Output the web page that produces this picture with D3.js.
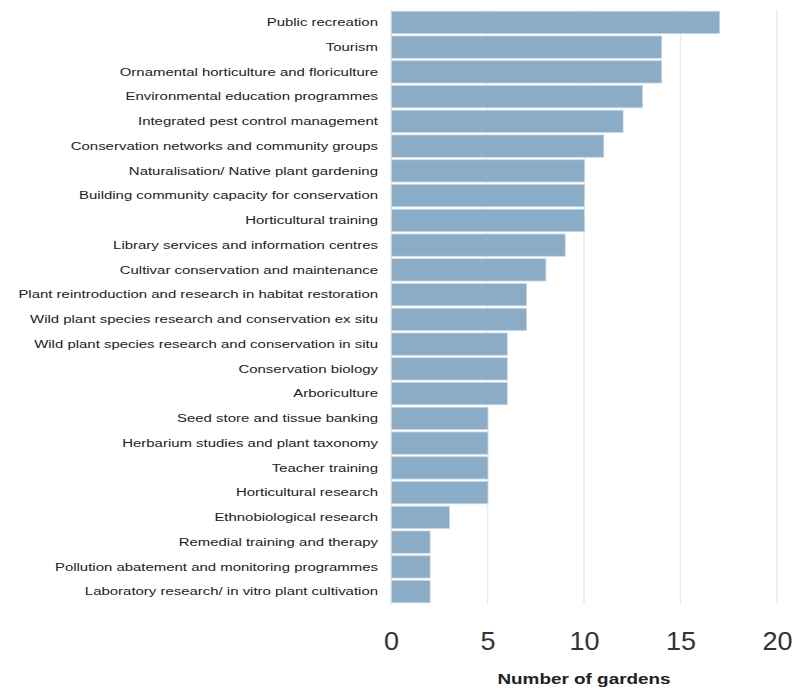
<!DOCTYPE html>
<html>
<head>
<meta charset="utf-8">
<script src="https://cdn.jsdelivr.net/npm/d3@7"></script>
<style>
  body { margin: 0; background: #fff; }
  svg { display: block; font-family: "Liberation Sans", Arial, sans-serif; }
</style>
</head>
<body>
<div id="chart"></div>
<script>
// categories, top to bottom
var categories = [
    "Public recreation",
    "Tourism",
    "Ornamental horticulture and floriculture",
    "Environmental education programmes",
    "Integrated pest control management",
    "Conservation networks and community groups",
    "Naturalisation/ Native plant gardening",
    "Building community capacity for conservation",
    "Horticultural training",
    "Library services and information centres",
    "Cultivar conservation and maintenance",
    "Plant reintroduction and research in habitat restoration",
    "Wild plant species research and conservation ex situ",
    "Wild plant species research and conservation in situ",
    "Conservation biology",
    "Arboriculture",
    "Seed store and tissue banking",
    "Herbarium studies and plant taxonomy",
    "Teacher training",
    "Horticultural research",
    "Ethnobiological research",
    "Remedial training and therapy",
    "Pollution abatement and monitoring programmes",
    "Laboratory research/ in vitro plant cultivation"
];
var gardens = [17, 14, 14, 13, 12, 11, 10, 10, 10, 9, 8, 7, 7, 6, 6, 6, 5, 5, 5, 5, 3, 2, 2, 2];
var xTicks = [0, 5, 10, 15, 20];

(function() {
    var width = 805;
    var height = 692;
    var left = 391, right = 777, top = 10, bottom = 604;

    var data = categories.map((c, i) => ({name: c, value: gardens[i]}));

    var svg = d3.select('#chart')
        .append('svg')
        .attr('width', width)
        .attr('height', height);

    var x = d3.scaleLinear()
        .domain([0, 20])
        .range([left, right]);

    var y = d3.scaleBand()
        .domain(categories)
        .range([top, bottom])
        .paddingInner(0.1)
        .paddingOuter(0.05);

    // grid lines
    svg.append('g')
        .selectAll('line')
        .data(xTicks)
        .join('line')
            .attr('x1', d => x(d))
            .attr('x2', d => x(d))
            .attr('y1', top)
            .attr('y2', bottom)
            .attr('stroke', '#ebebeb')
            .attr('stroke-width', 1.5);

    // bars
    svg.append('g')
        .selectAll('rect')
        .data(data)
        .join('rect')
            .attr('x', x(0) + 0.5)
            .attr('y', d => y(d.name))
            .attr('width', d => x(d.value) - x(0))
            .attr('height', y.bandwidth())
            .attr('fill', '#8aacc6')
            .attr('stroke', '#c8d6e2')
            .attr('stroke-width', 0.8);

    // category labels (the original type is drawn wide, so stretch it)
    var yAxis = svg.append('g')
        .attr('transform', `translate(${left}, 0)`)
        .call(d3.axisLeft(y).tickSize(0).tickPadding(10));
    yAxis.select('.domain').remove();
    yAxis.selectAll('text')
        .attr('font-size', '11.5px')
        .attr('fill', '#222')
        .attr('transform', 'scale(1.3,1)');

    // x axis
    var xAxis = svg.append('g')
        .attr('transform', `translate(0, ${bottom})`)
        .call(d3.axisBottom(x).tickValues(xTicks).tickSize(0).tickPadding(28));
    xAxis.select('.domain').remove();
    xAxis.selectAll('text')
        .attr('font-size', '25px')
        .attr('fill', '#333')
        .attr('transform', 'scale(1.08,1)');

    // axis title
    svg.append('g')
        .attr('transform', `translate(${(left + right) / 2}, 684)`)
        .append('text')
        .attr('text-anchor', 'middle')
        .attr('font-size', '14px')
        .attr('font-weight', 'bold')
        .attr('fill', '#222')
        .attr('transform', 'scale(1.35,1)')
        .text('Number of gardens');
})();
</script>
</body>
</html>
